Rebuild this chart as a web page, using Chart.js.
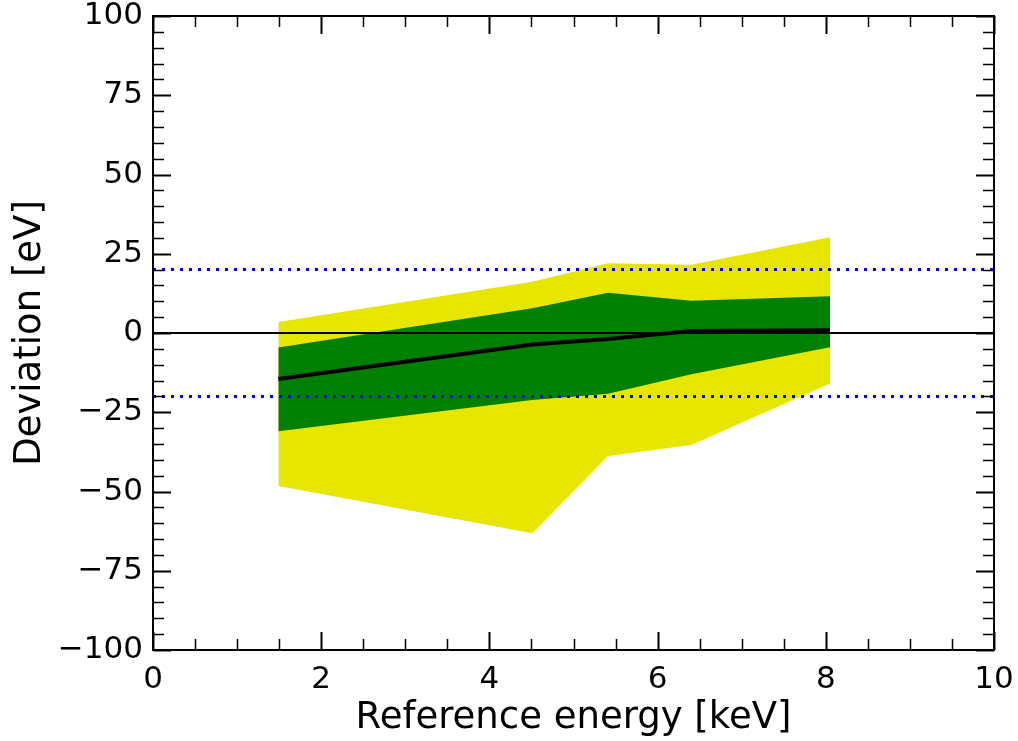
<!DOCTYPE html>
<html>
<head>
<meta charset="utf-8">
<script src="https://cdn.jsdelivr.net/npm/chart.js@4.4.1/dist/chart.umd.min.js"></script>
<style>
  html, body { margin:0; padding:0; background:#fff; }
  #wrap { width:1018px; height:741px; }
</style>
</head>
<body>
<div id="wrap"><canvas id="chart"></canvas></div>
<script>
// ---------------------------
// Data
// ---------------------------
const energies     = [1.49, 4.51, 5.41, 6.40, 8.05];
const deviation    = [-14.5, -3.6, -1.9, 0.6, 0.9];
const greenUpper   = [-4.6, 7.8, 12.7, 10.2, 11.6];
const greenLower   = [-31.0, -21.1, -19.2, -13.0, -4.5];
const yellowUpper  = [3.5, 16.2, 22.0, 21.5, 30.2];
const yellowLower  = [-48.3, -63.2, -38.8, -35.3, -15.9];
const limitLines   = [20, -20];
const xRange = [0, 10], yRange = [-100, 100];

const pts = vals => energies.map((x,i)=>({ x, y: vals[i] }));
const hline = y => [{ x:xRange[0], y }, { x:xRange[1], y }];

const FONT = 'DejaVu Sans';

// ---------------------------
// Inward ticks + frame (matplotlib look)
// ---------------------------
const frameTicks = {
  id: 'frameTicks',
  afterDraw(chart){
    const { ctx, chartArea: a, scales:{ x, y } } = chart;
    ctx.save();
    ctx.strokeStyle = '#000';
    const tick = (x1,y1,x2,y2,w)=>{ ctx.lineWidth=w; ctx.beginPath(); ctx.moveTo(x1,y1); ctx.lineTo(x2,y2); ctx.stroke(); };
    for (let v=0; v<=10.001; v+=0.5){
      const px = Math.round(x.getPixelForValue(v))+0.5;
      const major = Math.abs(v/2 - Math.round(v/2)) < 1e-6;
      const L = major ? 18 : 11, w = major ? 2 : 1.5;
      tick(px, a.bottom, px, a.bottom-L, w);
      tick(px, a.top, px, a.top+L, w);
    }
    for (let v=-100; v<=100; v+=5){
      const py = Math.round(y.getPixelForValue(v))+0.5;
      const major = v % 25 === 0;
      const L = major ? 18 : 11, w = major ? 2 : 1.5;
      tick(a.left, py, a.left+L, py, w);
      tick(a.right, py, a.right-L, py, w);
    }
    ctx.lineWidth = 2;
    ctx.strokeRect(a.left, a.top, a.right-a.left, a.bottom-a.top);
    ctx.restore();
  }
};

new Chart(document.getElementById('chart'), {
  type: 'line',
  data: {
    datasets: [
      { data: pts(yellowUpper), fill: '+1', backgroundColor:'#e6e600', borderWidth:0, pointRadius:0, order:6 },
      { data: pts(yellowLower), fill: false, borderWidth:0, pointRadius:0, order:6 },
      { data: pts(greenUpper), fill: '+1', backgroundColor:'#008000', borderWidth:0, pointRadius:0, order:5 },
      { data: pts(greenLower), fill: false, borderWidth:0, pointRadius:0, order:5 },
      { data: hline(0), borderColor:'#000', borderWidth:2, pointRadius:0, fill:false, order:4 },
      { data: hline(limitLines[0]), borderColor:'#0000ff', borderWidth:3, borderDash:[3,6], pointRadius:0, fill:false, order:3 },
      { data: hline(limitLines[1]), borderColor:'#0000ff', borderWidth:3, borderDash:[3,6], pointRadius:0, fill:false, order:3 },
      { data: pts(deviation), borderColor:'#000', borderWidth:4, pointRadius:0, fill:false, order:1 }
    ]
  },
  options: {
    responsive:true, maintainAspectRatio:false, animation:false,
    layout:{ padding:{ top:16, right:24, left:0, bottom:0 } },
    plugins:{ legend:{ display:false }, tooltip:{ enabled:false } },
    scales:{
      x:{
        type:'linear', min:xRange[0], max:xRange[1],
        grid:{ display:false, drawTicks:false }, border:{ display:false },
        ticks:{ stepSize:2, color:'#000', padding:11, maxRotation:0, font:{ family:FONT, size:31 } },
        title:{ display:true, text:'Reference energy [keV]', color:'#000', font:{ family:FONT, size:37 }, padding:{ top:0, bottom:0 } },
        afterFit(s){ s.height = 91; s.paddingLeft = 0; s.paddingRight = 0; }
      },
      y:{
        type:'linear', min:yRange[0], max:yRange[1],
        grid:{ display:false, drawTicks:false }, border:{ display:false },
        ticks:{ stepSize:25, color:'#000', padding:10, font:{ family:FONT, size:31 },
                callback:v=>String(v).replace('-','\u2212') },
        title:{ display:true, text:'Deviation [eV]', color:'#000', font:{ family:FONT, size:37 }, padding:{ top:8, bottom:0 } },
        afterFit(s){ s.width = 153; s.paddingTop = 0; s.paddingBottom = 0; }
      }
    }
  },
  plugins:[frameTicks]
});
</script>
</body>
</html>
